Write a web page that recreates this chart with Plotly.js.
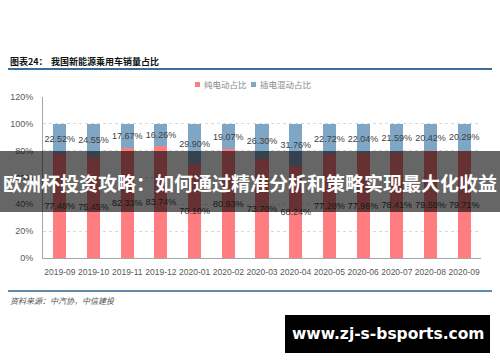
<!DOCTYPE html>
<html>
<head>
<meta charset="utf-8">
<script src="https://cdn.plot.ly/plotly-3.0.1.min.js"></script>
<style>html,body{margin:0;padding:0;background:#fff;}#chart{width:500px;height:362px;}</style>
</head>
<body>
<div id="chart"></div>
<script>
const categories = ['2019-09','2019-10','2019-11','2019-12','2020-01','2020-02','2020-03','2020-04','2020-05','2020-06','2020-07','2020-08','2020-09'];
const bevShare = [77.48,75.45,82.33,83.74,70.10,80.93,73.70,68.24,77.28,77.96,78.41,79.58,79.71];
const phevShare = [22.52,24.55,17.67,16.26,29.90,19.07,26.30,31.76,22.72,22.04,21.59,20.42,20.29];
const seriesNames = ['纯电动占比','插电混动占比'];
const yTicks = [0,20,40,60,80,100,120];

// plot area in pixels
const L = 43, R = 481, T = 97, B = 258;
const px = x => (x - L) / (R - L);
const py = y => (B - y) / (B - T);

const labelFont = {family:'Liberation Sans, Arial, sans-serif', size:9, color:'#404040'};

const traces = [
  {type:'bar', x:categories, y:bevShare, name:seriesNames[0], marker:{color:'#FF7C80'},
   text:bevShare.map(v=>v.toFixed(2)+'%'), textposition:'inside', insidetextanchor:'middle',
   textangle:0, constraintext:'none', textfont:labelFont, width:0.39},
  {type:'bar', x:categories, y:phevShare, name:seriesNames[1], marker:{color:'#7FA6C4'},
   text:phevShare.map(v=>v.toFixed(2)+'%'), textposition:'inside', insidetextanchor:'middle',
   textangle:0, constraintext:'none', textfont:labelFont, width:0.39}
];

const shapes = [
  {type:'line', xref:'paper', yref:'paper', x0:px(8), x1:px(492), y0:py(69), y1:py(69), line:{color:'#3A6E98', width:2}},
  {type:'line', xref:'paper', yref:'paper', x0:px(8), x1:px(492), y0:py(291), y1:py(291), line:{color:'#5E8AAE', width:2}},
  {type:'rect', xref:'paper', yref:'paper', x0:px(195), x1:px(200), y0:py(82), y1:py(87), fillcolor:'#FF7C80', line:{width:0}},
  {type:'rect', xref:'paper', yref:'paper', x0:px(251), x1:px(256), y0:py(82), y1:py(87), fillcolor:'#7FA6C4', line:{width:0}},
  {type:'rect', xref:'paper', yref:'paper', layer:'above', x0:px(0), x1:px(500), y0:py(151), y1:py(212), fillcolor:'rgba(0,0,0,0.6)', line:{width:0}},
  {type:'rect', xref:'paper', yref:'paper', layer:'above', x0:px(285), x1:px(490), y0:py(315), y1:py(353), fillcolor:'#000', line:{width:0}}
];

const cjk = 'Noto Sans CJK SC, sans-serif';
const annotations = [
  {xref:'paper', yref:'paper', x:px(8), y:py(61), xanchor:'left', yanchor:'middle', showarrow:false,
   text:'<b>图表24：</b>', font:{family:cjk, size:9, color:'#111'}},
  {xref:'paper', yref:'paper', x:px(49), y:py(61), xanchor:'left', yanchor:'middle', showarrow:false,
   text:'<b>我国新能源乘用车销量占比</b>', font:{family:cjk, size:9, color:'#111'}},
  {xref:'paper', yref:'paper', x:px(202), y:py(84.5), xanchor:'left', yanchor:'middle', showarrow:false,
   text:seriesNames[0], font:{family:cjk, size:8.5, color:'#8a8a8a'}},
  {xref:'paper', yref:'paper', x:px(258), y:py(84.5), xanchor:'left', yanchor:'middle', showarrow:false,
   text:seriesNames[1], font:{family:cjk, size:8.5, color:'#8a8a8a'}},
  {xref:'paper', yref:'paper', x:px(8), y:py(300), xanchor:'left', yanchor:'middle', showarrow:false,
   text:'<i>资料来源：中汽协，中信建投</i>', font:{family:cjk, size:8, color:'#555'}},
  {xref:'paper', yref:'paper', x:px(249.5), y:py(182), xanchor:'center', yanchor:'middle', showarrow:false,
   text:'<b>欧洲杯投资攻略：如何通过精准分析和策略实现最大化收益</b>', font:{family:cjk, size:19, color:'#fff'}},
  {xref:'paper', yref:'paper', x:px(388), y:py(334), xanchor:'center', yanchor:'middle', showarrow:false,
   text:'<b>www.zj-s-bsports.com</b>', font:{family:'DejaVu Sans, sans-serif', size:15.5, color:'#fff'}}
];

const layout = {
  width:500, height:362,
  margin:{l:L, r:500-R, t:T, b:362-B, pad:0},
  paper_bgcolor:'#fff', plot_bgcolor:'#fff',
  barmode:'stack', showlegend:false,
  xaxis:{type:'category', range:[-0.5,12.5], showgrid:false, showline:true, linecolor:'#A6A6A6', linewidth:1,
         ticks:'', tickangle:0, ticklabelstandoff:6, tickfont:{family:'Liberation Sans, Arial, sans-serif', size:8.5, color:'#595959'}, fixedrange:true},
  yaxis:{range:[0,120], tickvals:yTicks, ticktext:yTicks.map(v=>v+'%'), showgrid:true, gridcolor:'#D9D9D9', griddash:'dot', gridwidth:1,
         showline:true, linecolor:'#A6A6A6', linewidth:1, zeroline:false, ticks:'', ticklabelstandoff:7,
         tickfont:{family:'Liberation Sans, Arial, sans-serif', size:9, color:'#595959'}, fixedrange:true},
  shapes:shapes, annotations:annotations
};

Plotly.newPlot('chart', traces, layout, {staticPlot:true, displayModeBar:false});
</script>
</body>
</html>
